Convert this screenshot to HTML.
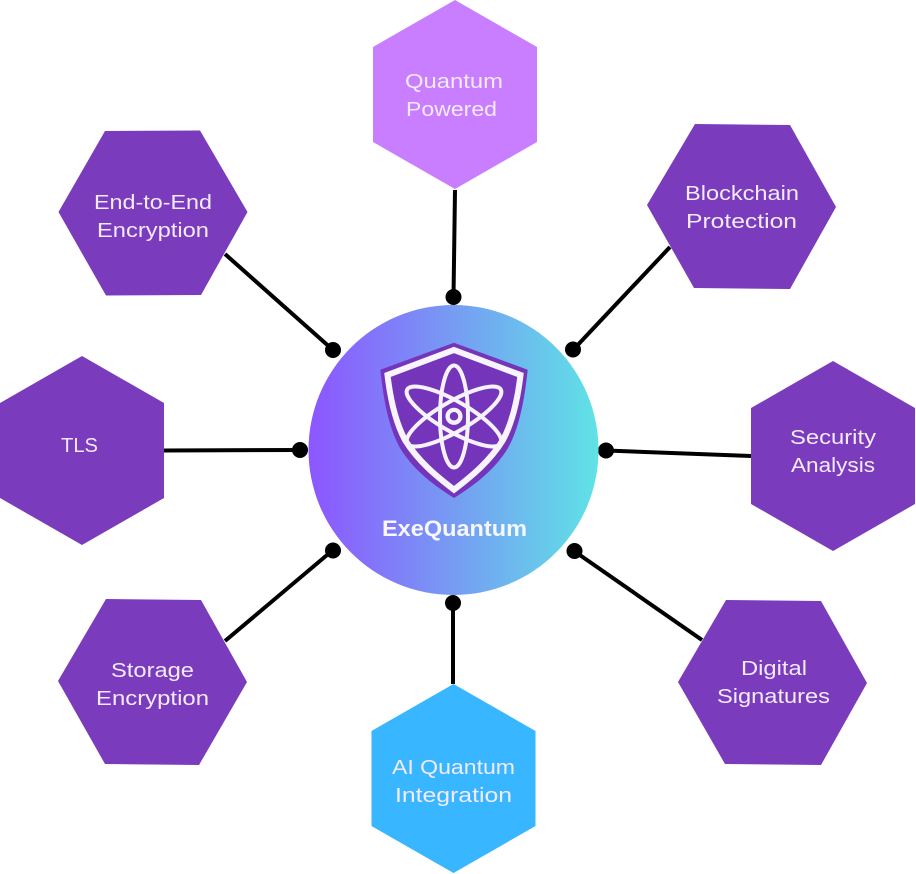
<!DOCTYPE html>
<html>
<head>
<meta charset="utf-8">
<style>
html,body{margin:0;padding:0;background:#fff;width:916px;height:874px;overflow:hidden}
svg{display:block}
.t{font-family:"Liberation Sans",sans-serif;font-size:20.5px;fill:#f3ebfa;text-anchor:start}
</style>
</head>
<body>
<svg width="916" height="874" viewBox="0 0 916 874" xmlns="http://www.w3.org/2000/svg">
<defs>
<linearGradient id="g" x1="0" y1="0" x2="1" y2="0">
<stop offset="0.03" stop-color="#8c59ff"/>
<stop offset="1" stop-color="#5fe3e6"/>
</linearGradient>
</defs>
<g stroke="#000" stroke-width="4" fill="none">
<line x1="455" y1="190" x2="453.5" y2="297"/>
<line x1="225" y1="254" x2="333" y2="350"/>
<line x1="670" y1="247" x2="573" y2="350"/>
<line x1="164" y1="450.5" x2="300" y2="450"/>
<line x1="751" y1="456" x2="606" y2="450.5"/>
<line x1="225" y1="641" x2="333" y2="550"/>
<line x1="702" y1="640" x2="574" y2="551"/>
<line x1="453" y1="684" x2="453" y2="603"/>
</g>
<g fill="#000">
<circle cx="453.5" cy="297" r="8"/>
<circle cx="333" cy="350" r="8"/>
<circle cx="573" cy="349.5" r="8"/>
<circle cx="300" cy="450" r="8"/>
<circle cx="606" cy="450.5" r="8"/>
<circle cx="333" cy="550.5" r="8"/>
<circle cx="574.5" cy="551" r="8"/>
<circle cx="453" cy="603" r="8"/>
</g>
<circle cx="453.5" cy="450" r="145" fill="url(#g)"/>
<polygon points="455,0 537,47 537,142 455,189 373,142 373,47" fill="#c87eff"/>
<polygon points="453.5,684 535.5,731 535.5,826 453.5,873 371.5,826 371.5,731" fill="#38b6ff"/>
<g fill="#7a3bbc">
<polygon points="58.5,212 105,131 200,130.5 247.5,212 201,295 106,295.5"/>
<polygon points="647,205 695,124 790,125 836,207 790,289 694,288"/>
<polygon points="82,356 164,403 164,498 82,545 0,498 0,403"/>
<polygon points="833,361 915,408 915,504 833,551 751,504 751,408"/>
<polygon points="58,681 106,599 201,600 247,682 199,765 105,764"/>
<polygon points="678,682 726,600 821,601 867,683 821,765 725,764"/>
</g>
<!-- shield -->
<path d="M454,342.7 L527.7,369.7 C524,405 518,430 508,448 C494,471 473,486 454,498 C435,486 414,471 400,448 C390,430 384,405 380.3,369.7 Z" fill="#7535bb"/>
<path d="M454,350 L520.5,375 C517,405 511,425 503,440 C490,461 472,476 454,489.7 C436,476 418,461 405,440 C397,425 391,405 387.5,375 Z" fill="none" stroke="#f8f4fd" stroke-width="6" stroke-linejoin="miter"/>
<g fill="none" stroke="#f6f2fc" stroke-width="4">
<ellipse cx="454" cy="416.5" rx="14" ry="51"/>
<ellipse cx="454" cy="416.5" rx="15" ry="54" transform="rotate(60 454 416.5)"/>
<ellipse cx="454" cy="416.5" rx="15" ry="54" transform="rotate(-60 454 416.5)"/>
<circle cx="454" cy="416.3" r="6.4" stroke-width="4.3"/>
</g>
<text x="382" y="536" textLength="145" lengthAdjust="spacingAndGlyphs" style="font-family:'Liberation Sans',sans-serif;font-weight:700;font-size:22px;fill:#f8f6fe">ExeQuantum</text>
<g class="labels">
<text class="t" x="405" y="88" textLength="98" lengthAdjust="spacingAndGlyphs">Quantum</text>
<text class="t" x="406" y="116" textLength="91" lengthAdjust="spacingAndGlyphs">Powered</text>
<text class="t" x="94" y="209" textLength="118" lengthAdjust="spacingAndGlyphs">End-to-End</text>
<text class="t" x="97" y="237" textLength="112" lengthAdjust="spacingAndGlyphs">Encryption</text>
<text class="t" x="685" y="200" textLength="114" lengthAdjust="spacingAndGlyphs">Blockchain</text>
<text class="t" x="686" y="228" textLength="111" lengthAdjust="spacingAndGlyphs">Protection</text>
<text class="t" x="61" y="452" textLength="37" lengthAdjust="spacingAndGlyphs">TLS</text>
<text class="t" x="790" y="444" textLength="86" lengthAdjust="spacingAndGlyphs">Security</text>
<text class="t" x="791" y="472" textLength="84" lengthAdjust="spacingAndGlyphs">Analysis</text>
<text class="t" x="111" y="677" textLength="83" lengthAdjust="spacingAndGlyphs">Storage</text>
<text class="t" x="96" y="705" textLength="113" lengthAdjust="spacingAndGlyphs">Encryption</text>
<text class="t" x="741" y="675" textLength="66" lengthAdjust="spacingAndGlyphs">Digital</text>
<text class="t" x="717" y="703" textLength="113" lengthAdjust="spacingAndGlyphs">Signatures</text>
<text class="t" x="392" y="774" textLength="123" lengthAdjust="spacingAndGlyphs">AI Quantum</text>
<text class="t" x="395" y="802" textLength="117" lengthAdjust="spacingAndGlyphs">Integration</text>
</g>
</svg>
</body>
</html>
